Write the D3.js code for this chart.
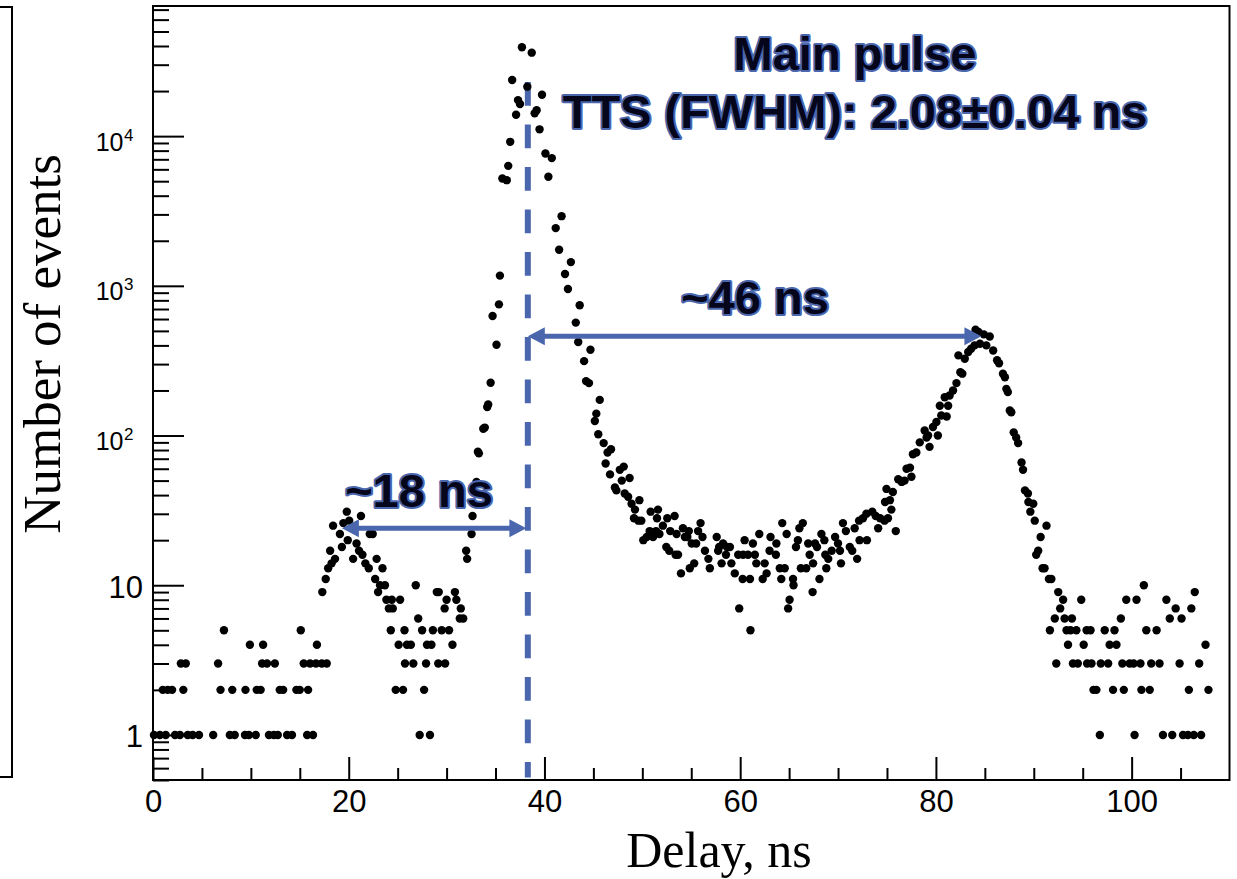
<!DOCTYPE html>
<html>
<head>
<meta charset="utf-8">
<script src="https://cdn.jsdelivr.net/npm/d3@7/dist/d3.min.js"></script>
<style>
    body { margin: 0; background: #fff; }
    .tick-label { font-family: "Liberation Sans", Arial, sans-serif; fill: #000; }
    .axis-title { font-family: "Liberation Serif", "Times New Roman", serif; fill: #000; }
    .note { font-family: "Liberation Sans", Arial, sans-serif; font-weight: bold; font-size: 47px;
            fill: #05051c; stroke: #4a67ae; stroke-width: 4px; paint-order: stroke; stroke-linejoin: round; }
</style>
</head>
<body>
<div id="chart"></div>
<script>
/* * * * * * * * * * * * * *
*   Delay histogram (log)  *
* * * * * * * * * * * * * */

// [delay in ns, number of events]
const preNoise = [
    [0.1,1],[0.7,1],[1.3,1],[2.25,1],[2.75,1],[3.55,1],[4.05,1],[4.7,1],[6.15,1],[7.85,1],[8.35,1],
    [9.4,1],[9.8,1],[10.5,1],[11.85,1],[12.35,1],[12.75,1],[13.7,1],[14.2,1],[15.75,1],[16.35,1],
    [1.0,2],[1.5,2],[1.95,2],[3.1,2],[6.9,2],[8.1,2],[9.45,2],[10.6,2],[11.0,2],[12.95,2],[13.3,2],
    [14.65,2],[15.0,2],[15.85,2],
    [2.85,3],[3.35,3],[6.65,3],[11.15,3],[11.65,3],[12.45,3],[15.4,3],[16.05,3],[16.65,3],[17.25,3],[17.75,3],
    [9.9,4],[11.25,4],[16.75,4],
    [7.25,5],[15.1,5]
];

const prePulse = [
    [17.3,9],[17.65,11],[17.9,13],[18.1,17],[18.25,14],[18.4,25],[18.6,15],[19.1,22],[19.3,18],[19.45,26],
    [19.8,31],[19.9,20],[20.05,27],[20.45,15],[20.8,19],[21.05,17],[21.25,29],[21.4,16],[21.7,14],[22.05,13],
    [22.15,22],[22.45,22],[22.7,11],[22.85,15],[23.0,9],[23.2,10],[23.45,13],[23.7,10],[23.85,8],[24.1,7],
    [24.3,5],[24.4,8],[24.5,7],[24.8,2],[25.1,4],[25.25,8],[25.55,2],[25.7,5],[25.75,3],[25.95,4],[26.35,4],
    [26.6,3],[26.85,10],[27.1,6],[27.25,1],[27.5,5],[27.7,2],[27.9,3],[28.0,4],[28.3,1],[28.45,4],[28.6,5],
    [29.0,9],[29.15,3],[29.2,9],[29.5,5],[29.8,7],[29.85,3],[30.0,8],[30.25,5],[30.6,4],[30.85,9],[31.0,8],
    [31.35,6],[31.45,7],[31.7,6]
];

const mainPulse = [
    [32.0,17],[32.1,15],[32.55,22],[32.65,29],[33.05,49],[33.2,78],[33.3,76],[33.75,111],[33.9,113],
    [34.15,155],[34.25,161],[34.5,225],[34.7,628],[35.1,404],[35.35,752],[35.45,1170],[35.7,5210],
    [36.15,5080],[36.3,6330],[36.5,9160],[36.7,23700],[37.1,13900],[37.3,17400],[37.5,16400],[37.7,39200],
    [38.25,21400],[38.7,36100],[39.0,14200],[39.2,14900],[39.5,11100],[39.75,18900],[40.1,7650],[40.4,5350],
    [40.75,7130],[41.15,2430],[41.5,1740],[41.75,2920],[42.1,1200],[42.4,953],[42.7,1440],[43.2,568],
    [43.45,421],[43.6,741]
];

const plateau = [
    [44.05,314],[44.25,231],[44.55,224],[44.7,374],[45.15,125],[45.3,140],[45.5,102],[45.65,173],[46.05,89],
    [46.25,65],[46.45,77],[46.7,55],[46.8,81],[47.2,45],[47.35,43],[47.7,59],[47.9,50],[48.1,62],[48.2,41],
    [48.55,39],[48.7,52],[48.9,35],[49.15,28],[49.25,32],[49.6,27],[49.7,37],[49.9,27],[50.1,20],[50.45,21],
    [50.75,23],[50.85,31],[51.1,21],[51.4,23],[51.5,28],[51.6,32],[51.75,22],[52.1,25],[52.45,18],[52.55,28],
    [52.75,17],[52.85,23],[53.3,29],[53.4,16],[53.5,22],[53.65,16],[53.95,12],[54.15,24],[54.35,21],[54.6,21],
    [54.75,23],[54.85,13],[55.05,19],[55.3,14],[55.5,19],[55.7,23],[55.95,26],[56.15,21],[56.4,17],[56.75,15],
    [56.9,13],[57.6,21],[57.75,17],[57.85,18],[58.1,14],[58.25,19],[58.55,16],[58.65,18],[58.95,18],[59.1,14],
    [59.45,12],[59.8,16],[59.9,7],[60.25,11],[60.3,16],[60.45,20],[60.8,16],[61.0,11],[61.05,5],[61.3,19],
    [61.5,16],[61.65,14],[61.95,22],[62.3,11],[62.5,14],[62.7,12],[63.0,17],[63.1,21],[63.65,16],[63.7,19]
];

const afterPulse = [
    [64.05,13],[64.2,11],[64.3,26],[64.55,13],[64.75,22],[64.9,7],[65.05,8],[65.4,11],[65.45,10],[65.7,18],
    [65.9,20],[66.05,24],[66.2,13],[66.4,26],[66.75,13],[66.95,19],[67.1,16],[67.4,9],[67.45,14],[67.65,19],
    [67.85,18],[68.1,11],[68.3,22],[68.6,20],[68.7,16],[68.8,13],[69.0,15],[69.35,17],[69.7,21],[70.0,19],
    [70.2,17],[70.3,14],[70.5,26],[70.8,23],[71.2,18],[71.45,17],[71.7,24],[71.95,15],[72.15,27],[72.2,20],
    [72.55,28],[72.9,30],[72.95,20],[73.5,31],[73.85,29],[74.1,24],[74.3,28],[74.75,27],[74.8,36],[74.95,44],
    [75.1,28],[75.3,37],[75.45,32],[75.6,42],[75.9,23],[76.15,51],[76.5,49],[76.8,50],[77.0,60],[77.35,61],
    [77.5,53],[77.65,75],[78.0,77],[78.35,90],[78.85,108],[79.05,97],[79.2,100],[79.35,84],[79.7,114],
    [80.05,123],[80.2,100],[80.4,158],[80.55,136],[80.9,180],[81.1,134],[81.25,158],[81.4,185],[81.75,200],
    [82.1,224],[82.3,343],[82.5,265],[82.7,259],[82.95,326],[83.3,361],[83.6,380],[83.95,400],[84.05,509],
    [84.35,491],[84.5,410],[84.9,474],[85.15,400],[85.5,459],[85.85,370],[86.25,318],[86.45,304],[86.85,259],
    [87.05,245],[87.2,205],[87.35,195],[87.55,147],[87.7,143],[87.95,105],[88.2,97],[88.4,89],[88.75,66],
    [88.9,59],[89.1,43],[89.4,41],[89.45,36],[89.65,31],[89.95,35],[90.1,27],[90.25,16],[90.45,17],[90.7,21],
    [90.9,13],[91.1,13],[91.3,25],[91.55,11],[91.8,11]
];

const tailNoise = [
    [101.25,10],
    [92.5,9],[106.45,9],
    [93.0,8],[94.85,8],[99.45,8],[100.5,8],[103.55,8],
    [92.7,7],[104.5,7],[106.1,7],
    [92.15,6],[93.15,6],[93.9,6],[98.9,6],[103.9,6],[105.1,6],
    [91.65,5],[93.35,5],[93.75,5],[94.35,5],[95.4,5],[95.8,5],[97.25,5],[98.25,5],[101.5,5],[102.55,5],
    [93.5,4],[95.1,4],[97.75,4],[98.45,4],[107.55,4],
    [92.3,3],[94.0,3],[94.5,3],[95.45,3],[95.9,3],[96.85,3],[97.6,3],[99.05,3],[99.8,3],[100.2,3],
    [100.9,3],[102.0,3],[102.85,3],[104.9,3],[106.9,3],
    [96.1,2],[96.4,2],[98.1,2],[99.2,2],[101.0,2],[101.85,2],[105.85,2],[107.85,2],
    [96.75,1],[100.3,1],[103.2,1],[104.15,1],[105.25,1],[105.75,1],[106.35,1],[107.1,1]
];

// axis ticks
const xMajor = [0, 20, 40, 60, 80, 100];
const xMinor = [5, 10, 15, 25, 30, 35, 45, 50, 55, 65, 70, 75, 85, 90, 95, 105];
const yMajor = [1, 10, 100, 1000, 10000];

// annotations
const peakDelay = 38.3;
const afterPeakDelay = 84.65;
const prePeakDelay = 19.3;
const labels = {
    title: "Main pulse",
    tts: "TTS (FWHM): 2.08\u00b10.04 ns",
    after: "~46 ns",
    pre: "~18 ns"
};

const width = 1237, height = 879;
const blue = "#4a67ae";

const svg = d3.select("#chart").append("svg")
    .attr("width", width)
    .attr("height", height);

const x = d3.scaleLinear().domain([0, 110]).range([153, 1229.5]);
const y = d3.scaleLog().domain([0.5, 7.4e4]).range([780, 6]);

// minor y ticks: 2..9 in every decade
let yMinor = [];
for (let e = -1; e <= 4; e++) {
    for (let m = 2; m <= 9; m++) {
        const v = m * Math.pow(10, e);
        if (v >= 0.5 && v <= 7.4e4) yMinor.push(v);
    }
}

// x axis
const xMinorG = svg.append("g").attr("transform", "translate(0,780)")
    .call(d3.axisBottom(x).tickValues(xMinor).tickSize(-12).tickFormat(""));
const xMajorG = svg.append("g").attr("transform", "translate(0,780)")
    .call(d3.axisBottom(x).tickValues(xMajor).tickSize(-23).tickPadding(10).tickFormat(d3.format("d")));

// y axis
const yMinorG = svg.append("g").attr("transform", "translate(153,0)")
    .call(d3.axisLeft(y).tickValues(yMinor).tickSize(-16).tickFormat(""));
const yMajorG = svg.append("g").attr("transform", "translate(153,0)")
    .call(d3.axisLeft(y).tickValues(yMajor).tickSize(-31).tickFormat(""));

[xMinorG, xMajorG, yMinorG, yMajorG].forEach(g => {
    g.select(".domain").remove();
    g.selectAll(".tick line").attr("stroke", "#000").attr("stroke-width", 2);
});

xMajorG.selectAll(".tick text")
    .attr("class", "tick-label")
    .style("font-size", "31px");

yMajorG.selectAll(".tick").each(function (d) {
    const g = d3.select(this);
    g.select("text").remove();
    const e = Math.round(Math.log10(d));
    if (e < 2) {
        g.append("text").attr("class", "tick-label")
            .attr("x", -10).attr("y", 12)
            .attr("text-anchor", "end")
            .style("font-size", "31px")
            .text(d);
    } else {
        g.append("text").attr("class", "tick-label")
            .attr("x", -29.5).attr("y", 14)
            .attr("text-anchor", "end")
            .style("font-size", "25px")
            .text("10");
        g.append("text").attr("class", "tick-label")
            .attr("x", -29).attr("y", 4)
            .attr("text-anchor", "start")
            .style("font-size", "17px")
            .text(e);
    }
});

// dashed line at main pulse
svg.append("line")
    .attr("x1", x(peakDelay)).attr("x2", x(peakDelay))
    .attr("y1", y(23000)).attr("y2", y(0.52))
    .attr("stroke", blue)
    .attr("stroke-width", 6)
    .attr("stroke-dasharray", "23.7 18.8");

// data points
const allPoints = [].concat(preNoise, prePulse, mainPulse, plateau, afterPulse, tailNoise);
svg.append("g").selectAll("circle")
    .data(allPoints)
    .enter().append("circle")
    .attr("cx", d => x(d[0]))
    .attr("cy", d => y(d[1]))
    .attr("r", 4.2)
    .attr("fill", "#000");

// double arrows
function arrow(x0, x1, yy) {
    const head = 17, half = 9;
    const g = svg.append("g").attr("fill", blue).attr("stroke", "none");
    g.append("line")
        .attr("x1", x0 + head - 2).attr("x2", x1 - head + 2)
        .attr("y1", yy).attr("y2", yy)
        .attr("stroke", blue).attr("stroke-width", 5);
    g.append("path").attr("d", `M${x0},${yy} L${x0 + head},${yy - half} L${x0 + head},${yy + half} Z`);
    g.append("path").attr("d", `M${x1},${yy} L${x1 - head},${yy - half} L${x1 - head},${yy + half} Z`);
}
arrow(x(peakDelay), x(afterPeakDelay), y(460));
arrow(x(prePeakDelay), x(38.15), y(24));

// annotation texts
svg.append("text").attr("class", "note").attr("x", 855).attr("y", 70)
    .attr("text-anchor", "middle").text(labels.title);
svg.append("text").attr("class", "note").attr("x", 855).attr("y", 128)
    .attr("text-anchor", "middle").text(labels.tts);
svg.append("text").attr("class", "note").attr("x", 755).attr("y", 314)
    .attr("text-anchor", "middle").text(labels.after);
svg.append("text").attr("class", "note").attr("x", 419).attr("y", 507)
    .attr("text-anchor", "middle").text(labels.pre);

// frame
svg.append("rect")
    .attr("x", 153).attr("y", 6)
    .attr("width", 1229.5 - 153).attr("height", 774)
    .attr("fill", "none")
    .attr("stroke", "#000")
    .attr("stroke-width", 2);

// edge of the neighbouring panel
svg.append("path")
    .attr("d", "M0,7 H12 V777 H0")
    .attr("fill", "none")
    .attr("stroke", "#000")
    .attr("stroke-width", 2);

// axis titles
svg.append("text").attr("class", "axis-title")
    .attr("x", 719).attr("y", 867)
    .attr("text-anchor", "middle")
    .style("font-size", "50px")
    .text("Delay, ns");

svg.append("text").attr("class", "axis-title")
    .attr("transform", "translate(60,344) rotate(-90)")
    .attr("text-anchor", "middle")
    .style("font-size", "53px")
    .text("Number of events");
</script>
</body>
</html>
